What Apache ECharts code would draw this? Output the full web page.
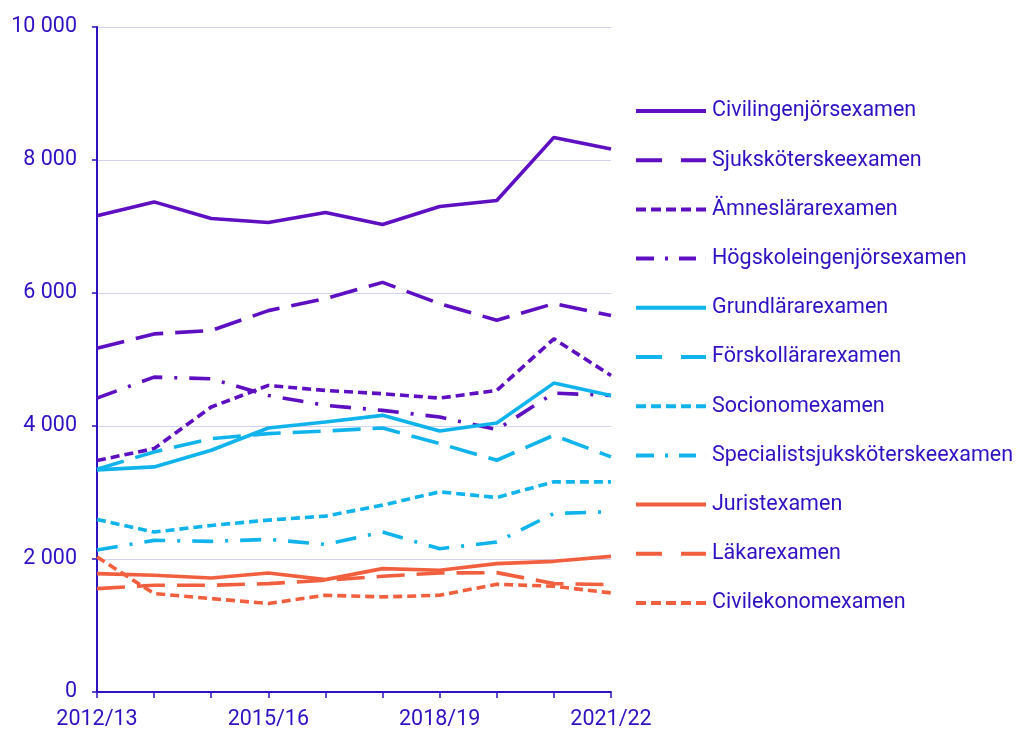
<!DOCTYPE html>
<html><head><meta charset="utf-8">
<script src="https://cdn.jsdelivr.net/npm/echarts@6/dist/echarts.min.js"></script>
<style>html,body{margin:0;padding:0;background:#fff}#c{width:1019px;height:731px}</style>
</head><body><div id="c"></div>
<script>
const categories = ['2012/13','2013/14','2014/15','2015/16','2016/17','2017/18','2018/19','2019/20','2020/21','2021/22'];
const civilingenjor = [7160,7370,7120,7060,7210,7030,7300,7390,8340,8165];
const sjukskoterske = [5170,5385,5435,5735,5915,6160,5840,5590,5840,5660];
const amneslarare = [3480,3660,4285,4610,4535,4485,4420,4535,5310,4760];
const hogskoleingenjor = [4420,4735,4710,4460,4310,4235,4135,3945,4495,4460];
const grundlarare = [3340,3385,3635,3970,4060,4160,3925,4045,4645,4460];
const forskollarare = [3350,3610,3810,3885,3925,3970,3735,3485,3860,3535];
const socionom = [2595,2405,2505,2585,2645,2810,3010,2925,3160,3160];
const specialist = [2135,2280,2265,2295,2220,2405,2155,2255,2685,2710];
const jurist = [1780,1755,1715,1790,1690,1855,1830,1930,1965,2040];
const lakare = [1555,1605,1605,1630,1680,1740,1790,1795,1630,1615];
const civilekonom = [2030,1480,1405,1330,1455,1430,1455,1620,1590,1490];

const PURPLE = '#5e0fc2', BLUE = '#10b3ec', RED = '#f25f3e', TXT = '#2d12c4';
const FONT = 'Roboto';
const LONG = [28, 12], SHORT = [9, 5], DASHDOT = [21, 12, 3, 12];
const ICON = {
  solid: 'path://M0 0H70V4H0Z',
  long: 'path://M0 0H26V4H0Z M45 0H70V4H45Z',
  short: 'path://M0 0H10V4H0Z M15 0H25V4H15Z M30 0H40V4H30Z M45 0H55V4H45Z M60 0H70V4H60Z',
  dashdot: 'path://M0 0H18V4H0Z M29 0H32V4H29Z M43 0H60V4H43Z M69.9 0H70V4H69.9Z'
};
function s(name, data, color, type) {
  return { name, type: 'line', data, symbol: 'none', smooth: false,
    lineStyle: { color, width: 3.6, type, cap: 'butt' }, itemStyle: { color } };
}
const legendItems = [
  ['Civilingenjörsexamen', ICON.solid], ['Sjuksköterskeexamen', ICON.long],
  ['Ämneslärarexamen', ICON.short], ['Högskoleingenjörsexamen', ICON.dashdot],
  ['Grundlärarexamen', ICON.solid], ['Förskollärarexamen', ICON.long],
  ['Socionomexamen', ICON.short], ['Specialistsjuksköterskeexamen', ICON.dashdot],
  ['Juristexamen', ICON.solid], ['Läkarexamen', ICON.long], ['Civilekonomexamen', ICON.short]
];
const chart = echarts.init(document.getElementById('c'));
chart.setOption({
  animation: false,
  grid: { left: 97, right: 408, top: 27, bottom: 38, containLabel: false },
  legend: {
    orient: 'vertical', left: 631, top: 95, itemWidth: 70, itemHeight: 4, itemGap: 27.2,
    textStyle: { color: TXT, fontFamily: FONT, fontSize: 21.5, padding: [0,0,0,1] },
    data: legendItems.map(([name, icon]) => ({ name, icon }))
  },
  xAxis: {
    type: 'category', data: categories, boundaryGap: false,
    axisLine: { lineStyle: { color: TXT, width: 2 } },
    axisTick: { show: true, interval: 0, length: 6, lineStyle: { color: TXT, width: 1.5 } },
    axisLabel: { interval: 2, color: TXT, fontFamily: FONT, fontSize: 21.5, margin: 17 },
    splitLine: { show: false }
  },
  yAxis: {
    type: 'value', min: 0, max: 10000, interval: 2000,
    axisLine: { show: true, lineStyle: { color: TXT, width: 2 } },
    axisTick: { show: true, length: 5, lineStyle: { color: TXT, width: 1.5 } },
    axisLabel: { color: TXT, fontFamily: FONT, fontSize: 21.5, margin: 20,
      formatter: v => String(v).replace(/\B(?=(\d{3})+(?!\d))/g, ' ') },
    splitLine: { lineStyle: { color: '#d4d2f2', width: 1 } }
  },
  series: [
    s('Civilingenjörsexamen', civilingenjor, PURPLE, 'solid'),
    s('Sjuksköterskeexamen', sjukskoterske, PURPLE, LONG),
    s('Ämneslärarexamen', amneslarare, PURPLE, SHORT),
    s('Högskoleingenjörsexamen', hogskoleingenjor, PURPLE, DASHDOT),
    s('Grundlärarexamen', grundlarare, BLUE, 'solid'),
    s('Förskollärarexamen', forskollarare, BLUE, LONG),
    s('Socionomexamen', socionom, BLUE, SHORT),
    s('Specialistsjuksköterskeexamen', specialist, BLUE, DASHDOT),
    s('Juristexamen', jurist, RED, 'solid'),
    s('Läkarexamen', lakare, RED, LONG),
    s('Civilekonomexamen', civilekonom, RED, SHORT)
  ]
});
</script></body></html>
